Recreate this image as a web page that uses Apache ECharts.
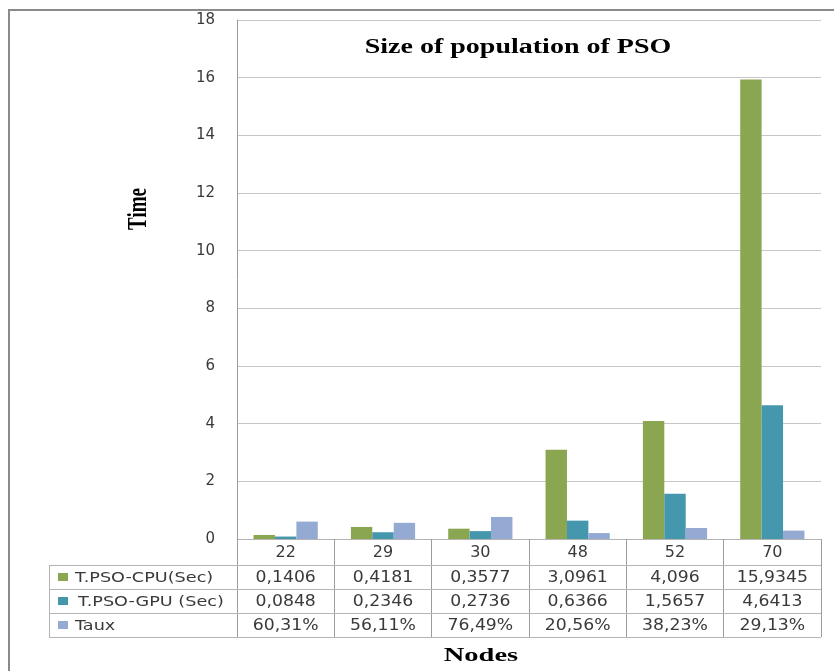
<!DOCTYPE html>
<html>
<head>
<meta charset="utf-8">
<script src="https://cdn.jsdelivr.net/npm/echarts@6/dist/echarts.min.js"></script>
<style>
  html, body { margin: 0; padding: 0; background: #fff; }
  #chart { width: 834px; height: 671px; }
</style>
</head>
<body>
<div id="chart"></div>
<script>
// PSO run times per graph size (seconds) and the GPU/CPU ratio
const nodes = ['22', '29', '30', '48', '52', '70'];
const cpuTime = [0.1406, 0.4181, 0.3577, 3.0961, 4.096, 15.9345];
const gpuTime = [0.0848, 0.2346, 0.2736, 0.6366, 1.5657, 4.6413];
const tauxPct = [60.31, 56.11, 76.49, 20.56, 38.23, 29.13];
const yMin = 0, yMax = 18, yStep = 2;
const seriesNames = ['T.PSO-CPU(Sec)', 'T.PSO-GPU (Sec)', 'Taux'];
const seriesColors = ['#8aa650', '#4597ae', '#95aad3'];

// layout
const plot = { left: 237, right: 821, top: 20, bottom: 539 };
const catRowH = 26, rowH = 24, tableLeft = 49;
const tableTop = plot.bottom + catRowH;
const tableBottom = tableTop + rowH * 3;
const gridColor = '#c6c6c6', axisColor = '#9c9c9c', tableColor = '#b4b4b4';
const textColor = '#3a3a3a';
const sans = 'DejaVu Sans';
const serif = 'Liberation Serif';

const fmtNum = v => String(v).replace('.', ',');
const fmtPct = v => v.toFixed(2).replace('.', ',') + '%';

const chart = echarts.init(document.getElementById('chart'), null, { renderer: 'canvas' });

chart.setOption({
  animation: false,
  backgroundColor: '#ffffff',
  grid: {
    left: plot.left,
    right: 834 - plot.right,
    top: plot.top,
    bottom: 671 - plot.bottom,
    containLabel: false
  },
  xAxis: {
    type: 'category',
    data: nodes,
    boundaryGap: true,
    axisLine: { show: true, lineStyle: { color: tableColor, width: 1 } },
    axisTick: {
      show: true,
      interval: 0,
      length: tableBottom - plot.bottom,
      lineStyle: { color: axisColor, width: 1 }
    },
    axisLabel: {
      margin: 6,
      fontFamily: sans,
      fontSize: 16,
      color: textColor
    },
    splitLine: { show: false }
  },
  yAxis: {
    type: 'value',
    min: yMin,
    max: yMax,
    interval: yStep,
    axisLine: { show: true, lineStyle: { color: axisColor, width: 1 } },
    axisTick: { show: false },
    axisLabel: {
      margin: 22,
      fontFamily: sans,
      fontSize: 15,
      color: textColor
    },
    splitLine: { show: true, lineStyle: { color: gridColor, width: 1 } }
  },
  series: [
    {
      name: seriesNames[0], type: 'bar', data: cpuTime,
      itemStyle: { color: seriesColors[0] },
      barGap: '0%', barCategoryGap: '34%'
    },
    {
      name: seriesNames[1], type: 'bar', data: gpuTime,
      itemStyle: { color: seriesColors[1] },
      barGap: '0%', barCategoryGap: '34%'
    },
    {
      name: seriesNames[2], type: 'bar', data: tauxPct.map(v => v / 100),
      itemStyle: { color: seriesColors[2] },
      barGap: '0%', barCategoryGap: '34%'
    }
  ]
});

// data table under the axis, aligned with the category bands
const centers = nodes.map((n, i) => chart.convertToPixel({ xAxisIndex: 0 }, i));
const rows = [
  cpuTime.map(fmtNum),
  gpuTime.map(fmtNum),
  tauxPct.map(fmtPct)
];

const graphics = [];

// outer chart frame
graphics.push({
  type: 'rect',
  shape: { x: 9, y: 10, width: 1000, height: 1000 },
  style: { fill: 'none', stroke: '#8a8a8a', lineWidth: 2 },
  silent: true, z: 10
});

// horizontal table rules
for (let r = 0; r <= 3; r++) {
  const y = tableTop + r * rowH + 0.5;
  graphics.push({
    type: 'line',
    shape: { x1: tableLeft, y1: y, x2: plot.right, y2: y },
    style: { stroke: tableColor, lineWidth: 1 },
    silent: true, z: 5
  });
}
// left edge of the legend column
graphics.push({
  type: 'line',
  shape: { x1: tableLeft + 0.5, y1: tableTop, x2: tableLeft + 0.5, y2: tableBottom },
  style: { stroke: tableColor, lineWidth: 1 },
  silent: true, z: 5
});

// legend keys and row labels
seriesNames.forEach((name, r) => {
  const cy = tableTop + r * rowH + rowH / 2;
  graphics.push({
    type: 'rect',
    shape: { x: 58, y: cy - 4, width: 10, height: 8 },
    style: { fill: seriesColors[r] },
    silent: true, z: 6
  });
  graphics.push({
    type: 'text',
    x: r === 1 ? 78 : 75,
    y: cy + 1,
    scaleX: 1.26,
    style: {
      text: name,
      fontFamily: sans,
      fontSize: 14,
      fill: textColor,
      align: 'left',
      verticalAlign: 'middle'
    },
    silent: true, z: 6
  });
});

// cell values
rows.forEach((vals, r) => {
  const cy = tableTop + r * rowH + rowH / 2;
  vals.forEach((txt, i) => {
    graphics.push({
      type: 'text',
      x: centers[i],
      y: cy + 1,
      scaleX: 1.15,
      style: {
        text: txt,
        fontFamily: sans,
        fontSize: 15,
        fill: textColor,
        align: 'center',
        verticalAlign: 'middle'
      },
      silent: true, z: 6
    });
  });
});

// chart title
graphics.push({
  type: 'text',
  x: 518, y: 48,
  scaleX: 1.4,
  style: {
    text: 'Size of population of PSO',
    fontFamily: serif, fontWeight: 'bold', fontSize: 20,
    fill: '#000', align: 'center', verticalAlign: 'middle'
  },
  silent: true, z: 6
});

// axis titles
graphics.push({
  type: 'text',
  x: 139, y: 209,
  rotation: Math.PI / 2,
  scaleY: 1.4,
  style: {
    text: 'Time',
    fontFamily: serif, fontWeight: 'bold', fontSize: 19,
    fill: '#000', align: 'center', verticalAlign: 'middle'
  },
  silent: true, z: 6
});
graphics.push({
  type: 'text',
  x: 481, y: 656,
  scaleX: 1.5,
  style: {
    text: 'Nodes',
    fontFamily: serif, fontWeight: 'bold', fontSize: 19,
    fill: '#000', align: 'center', verticalAlign: 'middle'
  },
  silent: true, z: 6
});

chart.setOption({ graphic: { elements: graphics } });
</script>
</body>
</html>
